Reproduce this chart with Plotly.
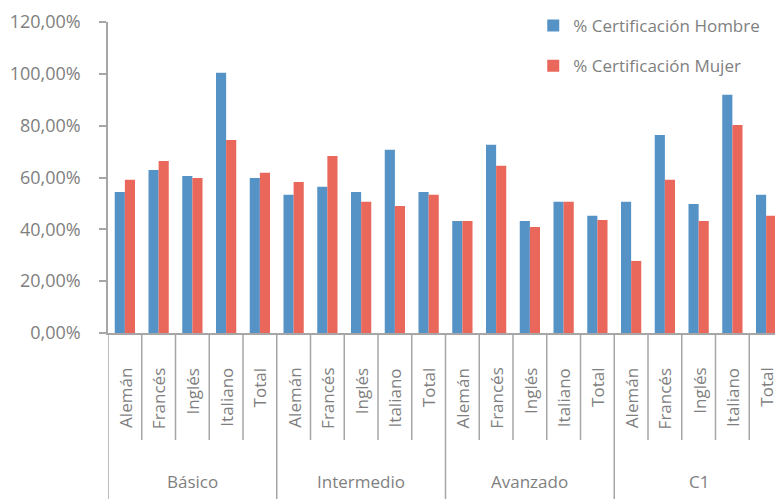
import plotly.graph_objects as go

groups = ["Básico", "Intermedio", "Avanzado", "C1"]
idiomas = ["Alemán", "Francés", "Inglés", "Italiano", "Total"]

hombre = [0.544, 0.629, 0.606, 1.004, 0.598,
          0.533, 0.564, 0.544, 0.707, 0.544,
          0.432, 0.726, 0.432, 0.506, 0.452,
          0.506, 0.764, 0.498, 0.919, 0.533]
mujer = [0.591, 0.664, 0.598, 0.745, 0.618,
         0.583, 0.683, 0.506, 0.490, 0.533,
         0.432, 0.645, 0.409, 0.506, 0.436,
         0.278, 0.591, 0.432, 0.803, 0.452]

serie_names = ["% Certificación Hombre", "% Certificación Mujer"]
colors = ["#5592C6", "#E9675B"]
ytickvals = [0, 0.2, 0.4, 0.6, 0.8, 1.0, 1.2]

n_sub = len(idiomas)
n = len(groups) * n_sub
xs = list(range(n))
sub_labels = [idiomas[i % n_sub] for i in xs]

FONT = "Open Sans"
FS = 17
GRAY = "#7f7f7f"
LINE = "#a6a6a6"

fig = go.Figure()
for name, vals, col in zip(serie_names, [hombre, mujer], colors):
    fig.add_trace(go.Bar(x=xs, y=vals, name=name, marker=dict(color=col, line=dict(width=0)),
                         legendgroup=name))

# plot area geometry: 311 px tall
H = 311.0
y_sub_end = -(440 - 333) / H
y_grp_end = -(499 - 333) / H
shapes = []
for i in range(n + 1):
    xb = i - 0.5
    is_group = (i % n_sub == 0)
    shapes.append(dict(type="line", xref="x", yref="paper", x0=xb, x1=xb,
                       y0=0, y1=(y_grp_end if is_group else y_sub_end),
                       line=dict(color=LINE, width=1.5)))

annotations = []
for i, lab in zip(xs, sub_labels):
    annotations.append(dict(x=i, y=-(366 - 333) / H, xref="x", yref="paper", text=lab,
                            textangle=-90, showarrow=False, xanchor="center", yanchor="top",
                            font=dict(family=FONT, size=FS, color=GRAY)))
for g, grp in enumerate(groups):
    annotations.append(dict(x=g * n_sub + (n_sub - 1) / 2, y=-(482 - 333) / H, xref="x", yref="paper",
                            text=grp, showarrow=False, xanchor="center", yanchor="middle",
                            font=dict(family=FONT, size=FS, color=GRAY)))

fig.update_layout(
    width=775, height=491,
    margin=dict(l=100, r=0, t=14, b=166),
    plot_bgcolor="white", paper_bgcolor="white",
    separators=",.",
    barmode="group", bargap=0.4, bargroupgap=0,
    font=dict(family=FONT, size=FS, color=GRAY),
    showlegend=True,
    legend=dict(x=0.63, y=1.045, xanchor="left", yanchor="top", tracegroupgap=15,
                font=dict(family=FONT, size=FS, color=GRAY), bgcolor="rgba(0,0,0,0)"),
    shapes=shapes, annotations=annotations,
)
fig.update_xaxes(range=[-0.5, n - 0.5], showticklabels=False, showgrid=False, zeroline=False,
                 showline=True, linecolor=LINE, linewidth=1.5, ticks="")
fig.update_yaxes(range=[0, 1.2], tickvals=ytickvals, tickformat=".2%", showgrid=False, zeroline=False,
                 showline=True, linecolor=LINE, linewidth=1.5, ticks="outside", ticklen=7,
                 tickcolor=LINE, tickwidth=1.5, ticklabelstandoff=15,
                 tickfont=dict(family=FONT, size=18, color=GRAY))

fig.write_html("out.html")
